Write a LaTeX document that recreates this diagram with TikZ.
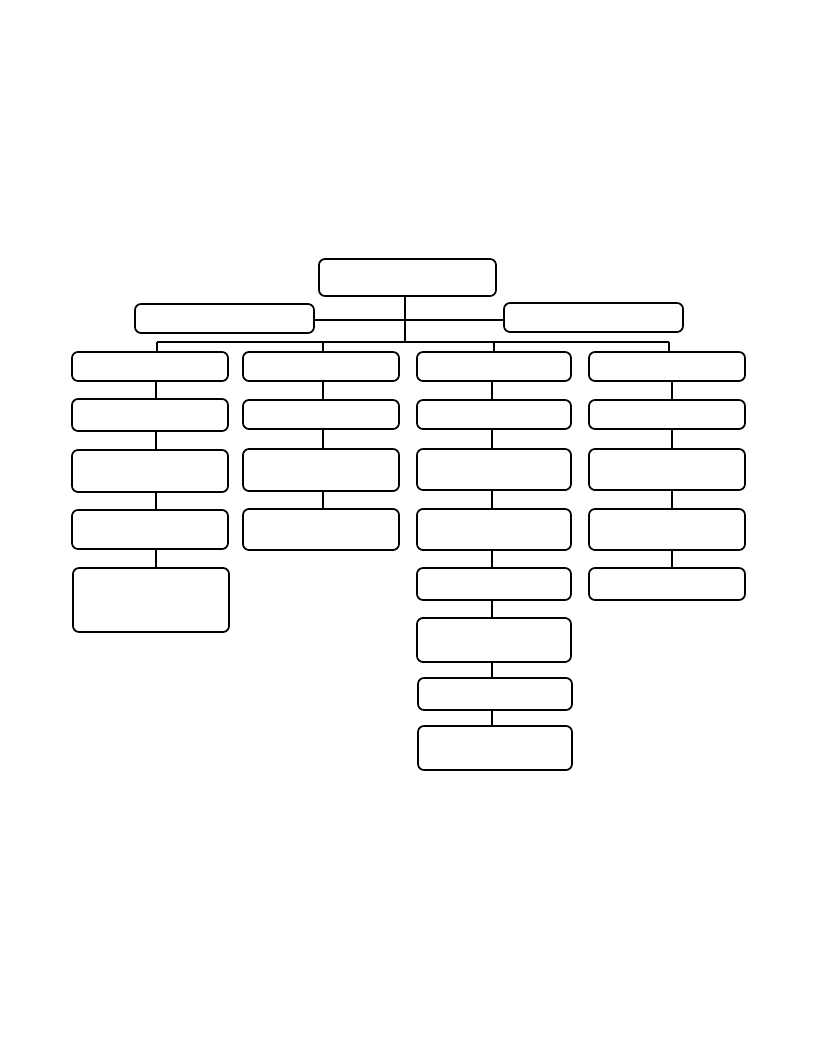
\documentclass[tikz,border=0pt]{standalone}
\begin{document}
\begin{tikzpicture}[x=1pt,y=-1pt,
	box/.style={draw,rounded corners=6pt,line width=1.7pt,inner sep=0pt},
	link/.style={line width=1.7pt}]
	\useasboundingbox (0,0) rectangle (816,1056);
	% top levels
	\node[box,minimum width=177pt,minimum height=37pt] (top) at (407.5,277.5) {};
	\node[box,minimum width=179pt,minimum height=29pt] (midl) at (224.5,318.5) {};
	\node[box,minimum width=179pt,minimum height=29pt] (midr) at (593.5,317.5) {};
	% column a
	\node[box,minimum width=156pt,minimum height=29pt] (a1) at (150,366.5) {};
	\node[box,minimum width=156pt,minimum height=32pt] (a2) at (150,415) {};
	\node[box,minimum width=156pt,minimum height=42pt] (a3) at (150,471) {};
	\node[box,minimum width=156pt,minimum height=39pt] (a4) at (150,529.5) {};
	\node[box,minimum width=156pt,minimum height=64pt] (a5) at (151,600) {};
	% column b
	\node[box,minimum width=156pt,minimum height=29pt] (b1) at (321,366.5) {};
	\node[box,minimum width=156pt,minimum height=29pt] (b2) at (321,414.5) {};
	\node[box,minimum width=156pt,minimum height=42pt] (b3) at (321,470) {};
	\node[box,minimum width=156pt,minimum height=41pt] (b4) at (321,529.5) {};
	% column c
	\node[box,minimum width=154pt,minimum height=29pt] (c1) at (494,366.5) {};
	\node[box,minimum width=154pt,minimum height=29pt] (c2) at (494,414.5) {};
	\node[box,minimum width=154pt,minimum height=41pt] (c3) at (494,469.5) {};
	\node[box,minimum width=154pt,minimum height=41pt] (c4) at (494,529.5) {};
	\node[box,minimum width=154pt,minimum height=32pt] (c5) at (494,584) {};
	\node[box,minimum width=154pt,minimum height=44pt] (c6) at (494,640) {};
	\node[box,minimum width=154pt,minimum height=32pt] (c7) at (495,694) {};
	\node[box,minimum width=154pt,minimum height=44pt] (c8) at (495,748) {};
	% column d
	\node[box,minimum width=156pt,minimum height=29pt] (d1) at (667,366.5) {};
	\node[box,minimum width=156pt,minimum height=29pt] (d2) at (667,414.5) {};
	\node[box,minimum width=156pt,minimum height=41pt] (d3) at (667,469.5) {};
	\node[box,minimum width=156pt,minimum height=41pt] (d4) at (667,529.5) {};
	\node[box,minimum width=156pt,minimum height=32pt] (d5) at (667,584) {};
	% connectors
	\coordinate (bus) at (405,342);
	\coordinate (hz) at (405,320);
	\draw[link] (top.south -| bus) -- (bus);
	\draw[link] (midl.east |- hz) -- (midr.west |- hz);
	\draw[link] (157,342) -- (669,342);
	\foreach \n/\x in {a1/157,b1/323,c1/494,d1/669}
		\draw[link] (\x,342) -- (\x,0 |- \n.north);
	\foreach \col/\x/\last in {a/156/4,b/323/3,c/492/7,d/672/4}
		\foreach \i in {1,...,\last} {
			\pgfmathtruncatemacro\j{\i+1}
			\draw[link] (\x,0 |- \col\i.south) -- (\x,0 |- \col\j.north);
		}
\end{tikzpicture}
\end{document}
